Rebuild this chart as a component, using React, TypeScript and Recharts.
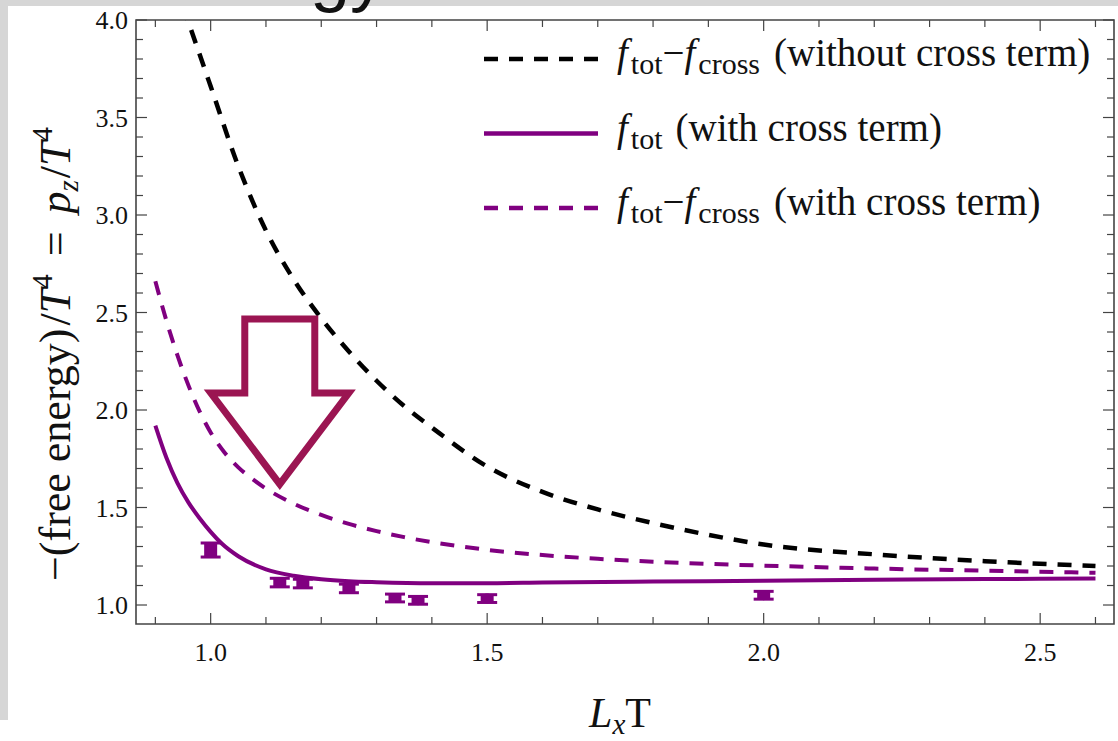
import React from 'react'
import {
  ComposedChart,
  Line,
  Scatter,
  ErrorBar,
  XAxis,
  YAxis,
  ReferenceArea,
  ReferenceDot,
  Legend,
} from 'recharts'

// f_tot - f_cross, no cross term
const noCrossX = [0.95, 1.0, 1.05, 1.1, 1.15, 1.2, 1.25, 1.3, 1.35, 1.4, 1.5, 1.6, 1.7, 1.8, 1.9, 2.0, 2.2, 2.4, 2.6]
const noCrossY = [4.07, 3.66, 3.25, 2.92, 2.67, 2.47, 2.3, 2.15, 2.02, 1.91, 1.71, 1.58, 1.49, 1.42, 1.36, 1.31, 1.26, 1.225, 1.2]

// f_tot with cross term
const totX = [0.9, 0.92, 0.94, 0.96, 0.98, 1.0, 1.02, 1.05, 1.1, 1.15, 1.2, 1.25, 1.3, 1.4, 1.5, 1.6, 1.8, 2.0, 2.2, 2.4, 2.6]
const totY = [1.92, 1.755, 1.625, 1.525, 1.445, 1.375, 1.315, 1.25, 1.183, 1.15, 1.132, 1.122, 1.117, 1.112, 1.112, 1.115, 1.12, 1.125, 1.13, 1.133, 1.136]

// f_tot - f_cross with cross term
const crossX = [0.9, 0.92, 0.94, 0.96, 0.98, 1.0, 1.025, 1.05, 1.075, 1.1, 1.15, 1.2, 1.25, 1.3, 1.35, 1.4, 1.45, 1.5, 1.6, 1.7, 1.8, 1.9, 2.0, 2.2, 2.4, 2.6]
const crossY = [2.66, 2.458, 2.28, 2.125, 1.993, 1.885, 1.782, 1.706, 1.647, 1.597, 1.52, 1.462, 1.416, 1.379, 1.348, 1.322, 1.301, 1.283, 1.256, 1.237, 1.222, 1.211, 1.202, 1.187, 1.176, 1.165]

// lattice points with errors
const latticeX = [1.0, 1.125, 1.1667, 1.25, 1.3333, 1.375, 1.5, 2.0]
const latticeY = [1.282, 1.115, 1.11, 1.085, 1.036, 1.024, 1.033, 1.05]
const latticeErr = [0.036, 0.022, 0.022, 0.022, 0.02, 0.02, 0.02, 0.02]

const X_TICKS = [0.9, 1.0, 1.1, 1.2, 1.3, 1.4, 1.5, 1.6, 1.7, 1.8, 1.9, 2.0, 2.1, 2.2, 2.3, 2.4, 2.5, 2.6]
const X_LABELED = [1.0, 1.5, 2.0, 2.5]
const Y_TICKS = [
  1.0, 1.1, 1.2, 1.3, 1.4, 1.5, 1.6, 1.7, 1.8, 1.9, 2.0, 2.1, 2.2, 2.3, 2.4, 2.5,
  2.6, 2.7, 2.8, 2.9, 3.0, 3.1, 3.2, 3.3, 3.4, 3.5, 3.6, 3.7, 3.8, 3.9, 4.0,
]
const Y_LABELED = [1.0, 1.5, 2.0, 2.5, 3.0, 3.5, 4.0]

const X_DOMAIN: [number, number] = [0.865, 2.6335]
const Y_DOMAIN: [number, number] = [0.9026, 4.0]

const W = 1118
const H = 741
const MARGIN = { top: 20, right: 4, bottom: 57, left: 36 }
const PLOT_TOP = MARGIN.top
const PLOT_RIGHT = W - MARGIN.right

const PURPLE = '#800080'
const ARROW = '#9B1552'
const FRAME = '#444'
const SERIF = '"Liberation Serif", "Times New Roman", serif'
const DASH = '14 11'

const zip = (xs: number[], ys: number[]) => xs.map((x, i) => ({ x, y: ys[i] }))
const noCrossData = zip(noCrossX, noCrossY)
const totData = zip(totX, totY)
const crossData = zip(crossX, crossY)
const latticeData = latticeX.map((x, i) => ({ x, y: latticeY[i], err: latticeErr[i] }))

const isLabeled = (v: number, list: number[]) => list.some(m => Math.abs(m - v) < 1e-6)

// bottom ticks also mirror onto the top frame edge
function XTick({ x, y, payload }: any) {
  const v = payload.value as number
  const major = isLabeled(v, X_LABELED)
  const len = major ? 11 : 7
  return (
    <g>
      <line x1={x} x2={x} y1={y} y2={y - len} stroke={FRAME} strokeWidth={1.2} />
      <line x1={x} x2={x} y1={PLOT_TOP} y2={PLOT_TOP + len} stroke={FRAME} strokeWidth={1.2} />
      {major && (
        <text x={x} y={y + 37} textAnchor="middle" fontFamily={SERIF} fontSize={26} fill="#111">
          {v.toFixed(1)}
        </text>
      )}
    </g>
  )
}

// left ticks also mirror onto the right frame edge
function YTick({ x, y, payload }: any) {
  const v = payload.value as number
  const major = isLabeled(v, Y_LABELED)
  const len = major ? 11 : 7
  return (
    <g>
      <line x1={x} x2={x + len} y1={y} y2={y} stroke={FRAME} strokeWidth={1.2} />
      <line x1={PLOT_RIGHT} x2={PLOT_RIGHT - len} y1={y} y2={y} stroke={FRAME} strokeWidth={1.2} />
      {major && (
        <text x={x - 8} y={y + 9} textAnchor="end" fontFamily={SERIF} fontSize={26} fill="#111">
          {v.toFixed(1)}
        </text>
      )}
    </g>
  )
}

const ARROW_OUTLINE = [[-35, -165], [35, -165], [35, -91], [69, -91], [0, 0], [-69, -91], [-35, -91]]

function DownArrow({ cx, cy }: any) {
  const pts = ARROW_OUTLINE.map(([dx, dy]) => `${cx + dx},${cy + dy}`).join(' ')
  return <polygon points={pts} fill="none" stroke={ARROW} strokeWidth={7} strokeLinejoin="miter" />
}

const LEGEND = [
  { stroke: '#000', dash: DASH, minus: true, note: '(without cross term)' },
  { stroke: PURPLE, dash: undefined, minus: false, note: '(with cross term)' },
  { stroke: PURPLE, dash: DASH, minus: true, note: '(with cross term)' },
]

function LegendBox() {
  return (
    <svg width={645} height={210}>
      {LEGEND.map((item, i) => {
        const ly = 39 + i * 74.5
        return (
          <g key={i}>
            <line x1={14} x2={128} y1={ly} y2={ly} stroke={item.stroke} strokeWidth={4.5} strokeDasharray={item.dash} />
            <text x={147} y={ly + 7} fontFamily={SERIF} fontSize={39} fill="#111">
              <tspan fontStyle="italic">f</tspan>
              <tspan fontSize={30} dx={3} dy={8}>tot</tspan>
              {item.minus ? (
                <>
                  <tspan dy={-8}>−</tspan>
                  <tspan fontStyle="italic">f</tspan>
                  <tspan fontSize={30} dx={3} dy={8}>cross</tspan>
                  <tspan dx={14} dy={-8}>{item.note}</tspan>
                </>
              ) : (
                <tspan dx={13} dy={-8}>{item.note}</tspan>
              )}
            </text>
          </g>
        )
      })}
    </svg>
  )
}

export default function App() {
  return (
    <div style={{ position: 'absolute', left: 0, top: 0, width: W, height: H, background: '#fff', overflow: 'hidden' }}>
      <div style={{ position: 'absolute', left: 0, top: 0, width: W, height: 6, background: '#d6d6d6' }} />
      <div style={{ position: 'absolute', left: 0, top: 0, width: 8, height: 720, background: '#d6d6d6' }} />

      <ComposedChart width={W} height={H} margin={MARGIN} style={{ position: 'absolute', left: 0, top: 0 }}>
        <XAxis
          xAxisId="x"
          dataKey="x"
          type="number"
          domain={X_DOMAIN}
          allowDataOverflow
          ticks={X_TICKS}
          interval={0}
          height={60}
          tickSize={0}
          tickMargin={0}
          tickLine={false}
          axisLine={false}
          tick={<XTick />}
        />
        <YAxis
          yAxisId="y"
          dataKey="y"
          type="number"
          domain={Y_DOMAIN}
          allowDataOverflow
          ticks={Y_TICKS}
          interval={0}
          width={100}
          tickSize={0}
          tickMargin={0}
          tickLine={false}
          axisLine={false}
          tick={<YTick />}
        />
        <ReferenceArea
          xAxisId="x"
          yAxisId="y"
          x1={X_DOMAIN[0]}
          x2={X_DOMAIN[1]}
          y1={Y_DOMAIN[0]}
          y2={Y_DOMAIN[1]}
          fill="none"
          fillOpacity={0}
          stroke={FRAME}
          strokeWidth={1.6}
          ifOverflow="visible"
        />
        <Line
          xAxisId="x"
          yAxisId="y"
          data={noCrossData}
          dataKey="y"
          type="monotone"
          stroke="#000"
          strokeWidth={4.5}
          strokeDasharray={DASH}
          dot={false}
          isAnimationActive={false}
        />
        <Line
          xAxisId="x"
          yAxisId="y"
          data={crossData}
          dataKey="y"
          type="monotone"
          stroke={PURPLE}
          strokeWidth={4}
          strokeDasharray={DASH}
          dot={false}
          isAnimationActive={false}
        />
        <Line
          xAxisId="x"
          yAxisId="y"
          data={totData}
          dataKey="y"
          type="monotone"
          stroke={PURPLE}
          strokeWidth={4}
          dot={false}
          isAnimationActive={false}
        />
        <Scatter
          xAxisId="x"
          yAxisId="y"
          data={latticeData}
          dataKey="y"
          fill={PURPLE}
          isAnimationActive={false}
          shape={(p: any) => <circle cx={p.cx} cy={p.cy} r={5} fill={PURPLE} />}
        >
          <ErrorBar dataKey="err" direction="y" width={0} strokeWidth={13} stroke={PURPLE} isAnimationActive={false} />
          <ErrorBar dataKey="err" direction="y" width={10} strokeWidth={3} stroke={PURPLE} isAnimationActive={false} />
        </Scatter>
        <ReferenceDot xAxisId="x" yAxisId="y" x={1.125} y={1.62} shape={<DownArrow />} />
        <Legend
          layout="vertical"
          align="center"
          verticalAlign="middle"
          wrapperStyle={{ position: 'absolute', left: 470, top: 20, width: 645, height: 210 }}
          content={() => <LegendBox />}
        />
      </ComposedChart>

      <svg width={W} height={H} style={{ position: 'absolute', left: 0, top: 0, pointerEvents: 'none' }}>
        <text x={386} y={-2} textAnchor="end" fontFamily='"Liberation Sans", Arial, sans-serif' fontSize={72} fill="#111">
          Energy
        </text>
        <text x={-354} y={70} transform="rotate(-90)" textAnchor="middle" fontFamily={SERIF} fontSize={44} fill="#111">
          <tspan>−(free energy)</tspan>
          <tspan dx={3}>/</tspan>
          <tspan fontStyle="italic">T</tspan>
          <tspan fontSize={29} dy={-18}>4</tspan>
          <tspan dx={18} dy={18}>=</tspan>
          <tspan dx={18} fontStyle="italic">p</tspan>
          <tspan fontStyle="italic" fontSize={29} dy={8}>z</tspan>
          <tspan dx={2} dy={-8}>/</tspan>
          <tspan fontStyle="italic">T</tspan>
          <tspan fontSize={29} dy={-18}>4</tspan>
        </text>
        <text x={620} y={727} textAnchor="middle" fontFamily={SERIF} fontSize={42} fill="#111">
          <tspan fontStyle="italic">L</tspan>
          <tspan fontStyle="italic" fontSize={29} dy={7}>x</tspan>
          <tspan dy={-7}>T</tspan>
        </text>
      </svg>
    </div>
  )
}
